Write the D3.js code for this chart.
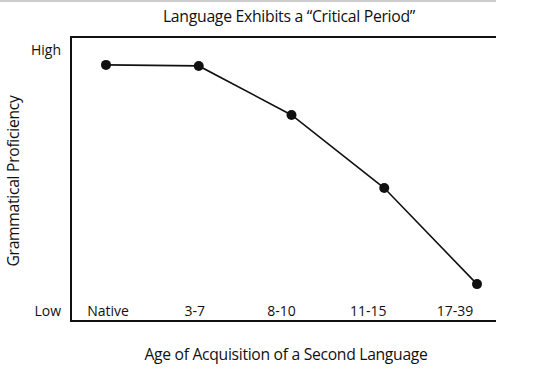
<!DOCTYPE html>
<html><head><meta charset="utf-8">
<script src="https://cdn.jsdelivr.net/npm/d3@7"></script>
<style>body{margin:0;background:#fff}svg{display:block}text{font-family:"Open Sans",sans-serif;fill:#111}</style>
</head><body><div id="chart"></div>
<script>
const categories = ["Native", "3-7", "8-10", "11-15", "17-39"];
const proficiency = [94.3, 93.9, 75.1, 47.1, 10.3];
const yTickLabels = ["Low", "High"];
const yTickValues = [0, 100];

const W = 539, H = 381;
const svg = d3.select("#chart").append("svg").attr("width", W).attr("height", H);

const frameL = 71, frameR = 496, frameT = 37, frameB = 321;
const x = d3.scalePoint().domain(categories).range([106, 477]);
const xLabel = d3.scalePoint().domain(categories).range([108, 455]);
const y = d3.scaleLinear().domain([0, 100]).range([311, 50]);

// faint top bar
svg.append("rect").attr("x",0).attr("y",0).attr("width",496).attr("height",2).attr("fill","#ccc");

// frame: top, left, bottom
svg.append("path")
  .attr("d", `M${frameR},${frameT}H${frameL}V${frameB}H${frameR}`)
  .attr("fill","none").attr("stroke","#111").attr("stroke-width",2);

// title
svg.append("text").attr("x",289).attr("y",22).attr("text-anchor","middle")
  .attr("font-size",15.8).attr("letter-spacing",-0.3).text("Language Exhibits a \u201CCritical Period\u201D");

// y tick labels
svg.selectAll(".yt").data(yTickValues).join("text")
  .attr("x", 61).attr("y", d => y(d) + 5).attr("text-anchor","end")
  .attr("font-size",14).text((d,i) => yTickLabels[i]);

// x tick labels
svg.selectAll(".xt").data(categories).join("text")
  .attr("x", d => xLabel(d)).attr("y", 316).attr("text-anchor","middle")
  .attr("font-size",14).text(d => d);

// axis titles
svg.append("text").attr("x",286).attr("y",360).attr("text-anchor","middle")
  .attr("font-size",15.7).attr("letter-spacing",-0.3).text("Age of Acquisition of a Second Language");
svg.append("text").attr("transform","translate(19,181) rotate(-90)").attr("text-anchor","middle")
  .attr("font-size",15.7).attr("letter-spacing",-0.3).text("Grammatical Proficiency");

// line
const line = d3.line().x((d,i) => x(categories[i])).y(d => y(d));
svg.append("path").datum(proficiency).attr("d", line)
  .attr("fill","none").attr("stroke","#111").attr("stroke-width",1.6);

svg.selectAll(".pt").data(proficiency).join("circle")
  .attr("cx",(d,i) => x(categories[i])).attr("cy", d => y(d)).attr("r",5).attr("fill","#111");
</script></body></html>
